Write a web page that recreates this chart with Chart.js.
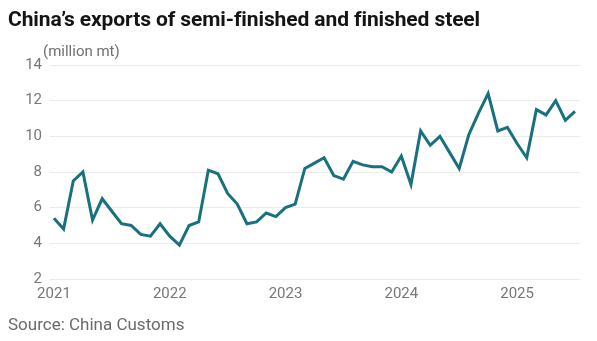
<!DOCTYPE html>
<html>
<head>
<meta charset="utf-8">
<script src="https://cdn.jsdelivr.net/npm/chart.js@4.4.1/dist/chart.umd.min.js"></script>
<style>
  html, body { margin: 0; padding: 0; background: #fff; }
  #wrap { position: relative; width: 597px; height: 341px; overflow: hidden; }
  #chartCanvas { position: absolute; left: 0; top: 0; }
  .txt { position: absolute; white-space: nowrap; font-family: Roboto, "Noto Sans", sans-serif; line-height: 1.2; }
  #title { left: 8px; top: 7px; font-size: 21px; font-weight: 700; color: #141414; letter-spacing: -0.1px; }
  #unit { left: 43px; top: 42px; font-size: 15px; color: #707070; }
  #source { left: 8px; top: 314px; font-size: 17px; color: #6a6a6a; }
</style>
</head>
<body>
<div id="wrap">
  <canvas id="chartCanvas" width="597" height="341"></canvas>
  <div class="txt" id="title">China’s exports of semi-finished and finished steel</div>
  <div class="txt" id="unit">(million mt)</div>
  <div class="txt" id="source">Source: China Customs</div>
</div>
<script>
// monthly exports, million tonnes
const exports2021 = [5.4, 4.8, 7.5, 8.0, 5.3, 6.5, 5.8, 5.1, 5.0, 4.5, 4.4, 5.1];
const exports2022 = [4.4, 3.9, 5.0, 5.2, 8.1, 7.9, 6.8, 6.2, 5.1, 5.2, 5.7, 5.5];
const exports2023 = [6.0, 6.2, 8.2, 8.5, 8.8, 7.8, 7.6, 8.6, 8.4, 8.3, 8.3, 8.0];
const exports2024 = [8.9, 7.3, 10.3, 9.5, 10.0, 9.1, 8.2, 10.1, 11.3, 12.4, 10.3, 10.5];
const exports2025 = [9.6, 8.8, 11.5, 11.2, 12.0, 10.9, 11.4];

const years = ["2021", "2022", "2023", "2024", "2025"];
const yTicks = [2, 4, 6, 8, 10, 12, 14];

const monthly = [].concat(exports2021, exports2022, exports2023, exports2024, exports2025);
const points = monthly.map((v, i) => ({ x: i, y: v }));

const tickFont = { family: "Roboto, 'Noto Sans', sans-serif", size: 15 };

const ctx = document.getElementById("chartCanvas").getContext("2d");

new Chart(ctx, {
  type: "line",
  data: {
    datasets: [{
      data: points,
      borderColor: "#19707f",
      borderWidth: 3,
      pointRadius: 0,
      tension: 0,
      borderJoinStyle: "miter",
      fill: false
    }]
  },
  options: {
    responsive: false,
    animation: false,
    layout: { padding: { top: 65, right: 17, bottom: 32, left: 0 } },
    plugins: { legend: { display: false }, tooltip: { enabled: false } },
    scales: {
      x: {
        type: "linear",
        min: -0.41,
        max: 54.52,
        grid: { display: false, drawTicks: false },
        border: { display: false },
        afterBuildTicks: scale => {
          scale.ticks = years.map((y, i) => ({ value: i * 12 }));
        },
        afterFit: scale => { scale.height = 30; },
        ticks: {
          padding: 6,
          color: "#777",
          font: tickFont,
          maxRotation: 0,
          callback: v => years[v / 12]
        }
      },
      y: {
        min: 2,
        max: 14,
        grid: { color: "#ebebeb", lineWidth: 1, drawTicks: false },
        border: { display: false },
        afterBuildTicks: scale => {
          scale.ticks = yTicks.map(v => ({ value: v }));
        },
        afterFit: scale => { scale.width = 50; },
        ticks: {
          padding: 8,
          color: "#777",
          font: tickFont
        }
      }
    }
  }
});
</script>
</body>
</html>
